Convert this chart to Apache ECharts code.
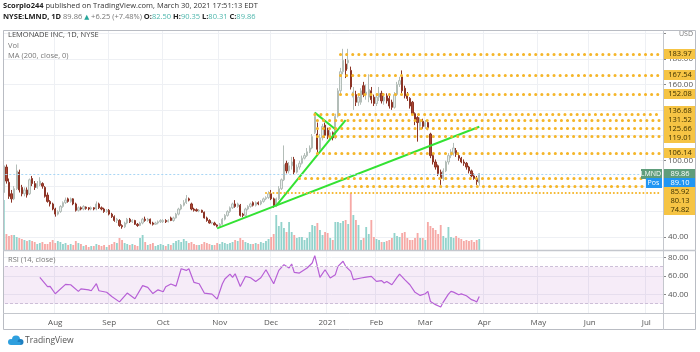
<!DOCTYPE html>
<html>
<head>
<meta charset="utf-8">
<script src="https://cdn.jsdelivr.net/npm/echarts@6/dist/echarts.min.js"></script>
<style>
html, body { margin: 0; padding: 0; background: #fff; }
#chart { width: 700px; height: 352px; }
</style>
</head>
<body>
<div id="chart"></div>
<script>
// daily candles, [open, close, low, high]
var jul20 = [[50.1,69.4,50,70],[75,96,73,99],[95,84,82,97],[83,72,70,86],[74,70,67,77],[70,78,69,80],[78,92,77,97],[91,77,75,93],[79,74,72,81],[74,77,72,79],[77,73,71,79],[74,85,73,86],[86,82,80,88],[82,79,77,84],[79,82,78,84],[81,84,80,87],[82,80,78,83],[79,72,71,80],[73,68,67,75],[68,66,64,69],[66,62,61,67]];
var aug20 = [[62,58,56,63],[58,60,57,61],[60,64,59,65],[64,67,63,68],[67,69,66,71],[70,68,67,71],[68,70,67,71],[70,66,65,70.5],[66,61,60,67],[61,63,60,64],[63,62,61,64],[62,64,61,65],[63.5,62.5,61.5,64],[63,62,61,63.5],[62,63,61,64],[63,62,61,63.5],[62,66,61,68],[66,63,62,67],[63,62,61,64],[62,60,59,63],[60,61,59,62]];
var sep20 = [[61,58,57,62],[58,56,55,59],[56,53,52,57],[53,54,51,55],[53,49,48,54],[49,48,46.5,50],[48,51,47,52],[51,54,50,55],[54,52,51,55],[52,53,51,54],[53,50,49.5,53.5],[50,49,48,51],[49,51,48.5,52],[51,54,50,55],[54,53,52,56],[53,54,52,55],[54,51,50,54.5],[51,50,49,52],[50,51,49.5,52],[51,52,50,53],[52,53,51,54]];
var oct20 = [[52,53,51,54],[53,52,51,54],[52,53,51.5,54],[55,53,52.5,56],[53,55,52,56],[55,58,54.5,59],[58,62,57,63],[62,65,61,66],[65,67,64,69],[67,70,66,73],[70,69,68,71],[66,62,61,67],[62,61,60,63],[61.5,60.5,60,62.5],[60.5,61,59.5,62],[61,59.5,59,61.5],[59.5,55,54.5,60],[55,53,52,56],[53,51,50.5,54],[51,51.5,50,52],[51,49.5,49,52],[49.5,48.5,47.6,50]];
var nov20 = [[48.5,50,48,51],[50,54,49.5,55],[54,57,53,58],[57,60,56,61],[60,63,59,64],[63,66,62,67],[66,64,63,69],[64,66,63,67],[65,57,56,66],[58,57,55.5,59],[57,62,56,63],[62,64,61,65],[64,66,63,67],[67,65,64,68],[65,67,64,68],[67,66,65,68],[66,68,65,69],[68,70,67,71],[70,71,69,72],[71,74,70,76]];
var dec20 = [[74,70,69,77],[70,64,63,71],[64,70,63.5,71],[70,78,69,80],[78,85,77,86],[85,97,84,112],[98,92,90,100],[92,96,90,99],[96,99,93,103],[101,91,89,103],[91,95,90,97],[95,98,93,100],[98,102,97,104],[102,104,101,106],[104,107,103,110],[107,110,106,112],[110,119,109,121],[122,135,121,138],[121,109,106,130],[109,118,108,121],[118,127,116,129],[128,120,118,130]];
var jan21 = [[124,119,117,126],[119,122,117,124],[122,118,116,123],[118,135,117,137],[135,155,134,157],[155,170,152,173],[170,179,168,188],[176,171,165,180],[177,179,172,188],[171,158,156,174],[150,154,140,158],[152,146,143,155],[146,150,143,153],[146,155,144,157],[159,152,150,162],[152,154,148,160],[150,156,146,168],[155,148,145,158],[150,145,143,152]];
var feb21 = [[145,150,143,153],[150,153,147,158],[153,147,145,155],[147,150,144,153],[151,147,145,153],[149,143,141,151],[146,142,140,148],[142,152,141,154],[152,160,151,162],[160,163,158,166],[166,155,153,171],[157,151,149,159],[152,149,147,154],[149,143,141,150],[146,137,136,147],[137,132,128,138],[134,130,115,135],[127,132,124,134],[131,127,125,133]];
var mar21 = [[127,130,125,132],[130,126,124,131],[121,104,102,122],[104,99,97,106],[99,95,93,101],[96,90,88,97],[91,86,81,93],[86,92,84,94],[92,99,91,100],[99,104,97,106],[104,107,102,109],[106,110,104,114],[108,105,103,110],[104,102,100,106],[102,99,98,103],[99,98,96,101],[98,95,93,99],[95,92,90,96],[92,88,87,93],[88,86,85,90],[86,83.61,81,88],[82.5,89.86,80.31,90.35]];

// volume per bar (x100k shares, estimated)
var volJul = [48,50,16,14,15,15,13,12,11,10,9,10,9,8,6,7,8,6,6,8,10];
var volAug = [7,9,8,6,7,5,6,5,9,7,6,4,5,3,4,4,6,5,4,5,3];
var volSep = [5,6,8,7,12,10,7,6,5,6,5,4,12,15,8,5,6,7,4,5,6];
var volOct = [5,4,6,5,7,9,10,8,11,9,7,8,6,5,5,6,8,7,6,5,5,7];
var volNov = [6,8,7,6,7,8,10,9,12,10,8,7,6,6,7,6,8,7,9,11];
var volDec = [13,16,35,24,28,22,18,28,18,15,12,13,13,10,12,18,25,24,27,20,15,18];
var volJan = [17,12,10,28,28,27,29,30,26,57,35,30,25,10,12,23,16,30,13];
var volFeb = [11,10,8,8,9,10,12,17,14,13,17,18,12,10,10,12,17,12,12];
var volMar = [10,28,24,22,20,16,25,14,12,23,13,12,14,12,11,9,10,9,10,8,10,11];

// RSI(14) read at bar index
var rsiPoints = [[15,58.4],[18,48.4],[19,48.7],[21,40.8],[25,50.9],[27,50.5],[30,43.3],[31,46],[34,45],[35,44],[37,51.6],[38,44],[41,42.4],[43,37.9],[46,32],[49,41.5],[52,35.4],[55,49.5],[57,47.7],[59,41],[61,45],[63,43],[64,48.4],[66,51.3],[68,49],[70,67.8],[72,66],[73,67.8],[75,53],[77,51.6],[79,41.5],[82,40.4],[84,35],[86,51.3],[87,56.7],[89,62],[90,58.4],[91,62.4],[93,48.7],[95,59.5],[97,58],[99,54.1],[101,58],[103,66.7],[106,51.6],[108,66],[110,72.2],[112,68.6],[113,72.9],[114,63.9],[116,63.1],[119,68.6],[121,74],[122,81.9],[124,58.4],[126,66.7],[128,57.8],[130,61.4],[131,70.4],[133,75.8],[134,70.4],[136,65],[137,56],[140,57.8],[142,58.7],[144,59.5],[146,54.1],[148,55],[149,52.4],[150,54.1],[152,50.5],[154,58.4],[155,62],[157,56],[159,50.5],[161,42.3],[163,39],[165,40.8],[166,43.3],[167,32.5],[169,29],[171,26.5],[172,31.8],[174,40.4],[175,43.3],[176,42.5],[178,39.7],[179,40.6],[181,38.6],[183,34.4],[184,33.4],[185,31.8],[186,37.9]];

// drawn trend lines, [barIndex, price]
var trendLong = [[83.8,46.8],[185.6,126.7]];
var trendSteep = [[106.5,64.6],[133.7,132]];
var trendTop = [[121.7,137.8],[130.2,124.7]];

// horizontal levels and the bar where each starts
var levelValues = [183.97,167.54,152.08,136.68,131.52,125.66,119.01,106.14,85.92,80.13,74.82];
var levelStarts = [132,132,132,122,123,123,123,123,115.5,132.6,103.4];
var lastPrice = 89.86;
var posPrice = 89.10;

// time axis: month ticks at bar index (trading days), future bars up to Jul 2021
var totalBars = 258;
var tickIndex = [21,42,63,85,105,127,146,165,188,209,229,251];
var tickText = ['Aug','Sep','Oct','Nov','Dec','2021','Feb','Mar','Apr','May','Jun','Jul'];

var candles = [].concat(jul20, aug20, sep20, oct20, nov20, dec20, jan21, feb21, mar21);
var volumes = [].concat(volJul, volAug, volSep, volOct, volNov, volDec, volJan, volFeb, volMar);

var cats = [];
for (var i = 0; i < totalBars; i++) cats.push(String(i));

var volData = volumes.map(function (v, i) {
    var up = candles[i][1] >= candles[i][0];
    return { value: v, itemStyle: { color: up ? '#93d3cc' : '#f6a9a6' } };
});

function isTick(idx) { return tickIndex.indexOf(idx) >= 0; }

var levelLines = levelValues.map(function (v, k) {
    var small = v < 75;
    return [
        { coord: [levelStarts[k], v], lineStyle: { width: small ? 2 : 3, type: small ? [0.1, 3.6] : [0.1, 6] } },
        { coord: [totalBars - 1, v] }
    ];
});

var chart = echarts.init(document.getElementById('chart'));
var font = '"Open Sans", "DejaVu Sans", sans-serif';

var option = {
    animation: false,
    textStyle: { fontFamily: font },
    grid: [
        { left: 0, right: 37, top: 30, height: 207 },
        { left: 0, right: 37, top: 30, height: 220 },
        { left: 0, right: 37, top: 250, height: 63 }
    ],
    xAxis: [
        { type: 'category', gridIndex: 0, data: cats, show: false },
        { type: 'category', gridIndex: 1, data: cats, axisLine: { show: false }, axisTick: { show: false }, axisLabel: { show: false },
          splitLine: { show: true, interval: function (i) { return isTick(i); }, lineStyle: { color: '#eef0f4' } } },
        { type: 'category', gridIndex: 2, data: cats,
          axisLine: { show: false }, axisTick: { show: false },
          axisLabel: { interval: function (i) { return isTick(i); }, formatter: function (v, i) { var k = tickIndex.indexOf(i); return k >= 0 ? tickText[k] : ''; },
                       color: '#555', fontSize: 8, margin: 6 },
          splitLine: { show: true, interval: function (i) { return isTick(i); }, lineStyle: { color: '#eef0f4' } } }
    ],
    yAxis: [
        { type: 'value', gridIndex: 0, position: 'right', min: 40, max: 202.8, interval: 20,
          axisLine: { show: false }, axisTick: { show: true, length: 3, lineStyle: { color: '#888' } },
          axisLabel: { color: '#555', fontSize: 8, margin: 5, showMaxLabel: false, formatter: function (v) { return v > 190 ? '' : v.toFixed(2); } },
          splitLine: { lineStyle: { color: '#eef0f4' } } },
        { type: 'value', gridIndex: 1, min: 0, max: 220, show: false },
        { type: 'value', gridIndex: 2, position: 'right', min: 20, max: 88, interval: 20,
          axisLine: { show: false }, axisTick: { show: true, length: 3, lineStyle: { color: '#888' } },
          axisLabel: { color: '#555', fontSize: 8, margin: 5, showMinLabel: false, showMaxLabel: false, formatter: function (v) { return v.toFixed(2); } },
          splitLine: { lineStyle: { color: '#eef0f4' } } }
    ],
    series: [
        { name: 'Vol', type: 'bar', xAxisIndex: 1, yAxisIndex: 1, data: volData, barWidth: '72%', silent: true },
        { name: 'LMND', type: 'candlestick', xAxisIndex: 0, yAxisIndex: 0, data: candles, barWidth: '68%',
          itemStyle: { color: '#e9eeec', color0: '#ac4634', borderColor: '#b3bdb8', borderColor0: '#8c3426', borderWidth: 1 } },
        { name: 'levels', type: 'line', xAxisIndex: 0, yAxisIndex: 0, data: [], silent: true,
          markLine: { silent: true, symbol: 'none', label: { show: false },
                      lineStyle: { color: '#f5b62a', width: 3, cap: 'round' },
                      data: levelLines.concat([[{ coord: [0, posPrice], lineStyle: { color: '#a9d6f5', width: 1, type: [2, 2], cap: 'butt' } }, { coord: [totalBars - 1, posPrice] }]]) } },
        { name: 't1', type: 'line', xAxisIndex: 0, yAxisIndex: 0, data: trendLong, symbol: 'none', silent: true, lineStyle: { color: '#33e233', width: 2 } },
        { name: 't2', type: 'line', xAxisIndex: 0, yAxisIndex: 0, data: trendSteep, symbol: 'none', silent: true, lineStyle: { color: '#33e233', width: 2 } },
        { name: 't3', type: 'line', xAxisIndex: 0, yAxisIndex: 0, data: trendTop, symbol: 'none', silent: true, lineStyle: { color: '#33e233', width: 2 } },
        { name: 'RSI', type: 'line', xAxisIndex: 2, yAxisIndex: 2, data: rsiPoints, symbol: 'none', silent: true,
          lineStyle: { color: '#b760d6', width: 1.2 },
          markArea: { silent: true, itemStyle: { color: 'rgba(156,39,176,0.09)' }, data: [[{ yAxis: 30 }, { yAxis: 70 }]] },
          markLine: { silent: true, symbol: 'none', label: { show: false }, lineStyle: { color: '#cdbfd8', type: [3, 2], width: 1 },
                      data: [{ yAxis: 30 }, { yAxis: 70 }] } }
    ]
};
chart.setOption(option);

// price scale tags, pushed apart where they overlap
function priceY(v) { return chart.convertToPixel({ gridIndex: 0 }, [0, v])[1]; }
var tags = levelValues.map(function (v) { return { v: v, y: priceY(v), fixed: false, bg: '#f6c444', fg: '#3d3200' }; });
tags.push({ v: lastPrice, y: priceY(lastPrice), fixed: true, bg: '#5f9d7b', fg: '#fff', name: 'LMND' });
tags.push({ v: posPrice, y: priceY(posPrice), fixed: false, bg: '#2196f3', fg: '#fff', name: 'Pos' });
var gap = 9;
for (var it = 0; it < 200; it++) {
    tags.sort(function (a, b) { return a.y - b.y; });
    for (var k = 0; k < tags.length - 1; k++) {
        var a = tags[k], b = tags[k + 1], d = b.y - a.y;
        if (d < gap) {
            var o = gap - d;
            if (a.fixed) b.y += o;
            else if (b.fixed) a.y -= o;
            else { a.y -= o / 2; b.y += o / 2; }
        }
    }
}

var g = [];
// mask left of frame
g.push({ type: 'rect', shape: { x: 0, y: 28, width: 3, height: 305 }, style: { fill: '#fff' }, z: 50 });
tags.forEach(function (t) {
    var ty = Math.round(t.y);
    g.push({ type: 'rect', shape: { x: 664, y: ty - 5, width: 31, height: 10 }, style: { fill: t.bg }, z: 60 });
    g.push({ type: 'text', x: 680, y: ty, style: { text: t.v.toFixed(2), fill: t.fg, fontSize: 7.5, fontFamily: font, align: 'center', verticalAlign: 'middle' }, z: 61 });
    if (t.name) {
        var w = t.name === 'LMND' ? 22 : 17;
        g.push({ type: 'rect', shape: { x: 663 - w, y: ty - 5, width: w - 1, height: 10 }, style: { fill: t.bg }, z: 60 });
        g.push({ type: 'text', x: 662 - w / 2, y: ty, style: { text: t.name, fill: t.fg, fontSize: 7, fontFamily: font, align: 'center', verticalAlign: 'middle' }, z: 61 });
    }
});
// frame and pane separators
g.push({ type: 'rect', shape: { x: 3.5, y: 30.5, width: 692, height: 299 }, style: { fill: 'none', stroke: '#b9bcc3', lineWidth: 1 }, z: 70 });
g.push({ type: 'line', shape: { x1: 663.5, y1: 30, x2: 663.5, y2: 330 }, style: { stroke: '#c4c7cd', lineWidth: 1 }, z: 70 });
g.push({ type: 'line', shape: { x1: 3, y1: 250.5, x2: 696, y2: 250.5 }, style: { stroke: '#c4c7cd', lineWidth: 1.5 }, z: 70 });
g.push({ type: 'line', shape: { x1: 3, y1: 313.5, x2: 696, y2: 313.5 }, style: { stroke: '#c4c7cd', lineWidth: 1 }, z: 70 });
// header
g.push({ type: 'text', x: 3, y: 6, style: { text: '{b|Scorpio244} published on TradingView.com, March 30, 2021 17:51:13 EDT',
    fontSize: 7.5, fontFamily: font, fill: '#333', verticalAlign: 'middle',
    rich: { b: { fontWeight: 'bold', fontSize: 7.5, fontFamily: font, fill: '#222' } } }, z: 80 });
g.push({ type: 'text', x: 3, y: 17, style: {
    text: '{b|NYSE:LMND, 1D} {n|89.86} {u|▲} {n|+6.25 (+7.48%)} {b|O:}{t|82.50} {b|H:}{t|90.35} {b|L:}{t|80.31} {b|C:}{t|89.86}',
    fontSize: 7.5, fontFamily: font, fill: '#333', verticalAlign: 'middle',
    rich: { b: { fontWeight: 'bold', fontSize: 7.5, fontFamily: font, fill: '#222' },
            n: { fontSize: 7.5, fontFamily: font, fill: '#777' },
            u: { fontSize: 6.5, fontFamily: font, fill: '#26a69a' },
            t: { fontSize: 7.5, fontFamily: font, fill: '#4db6ac' } } }, z: 80 });
// pane legends
g.push({ type: 'text', x: 8, y: 35, style: { text: 'LEMONADE INC, 1D, NYSE', fontSize: 7.5, fontFamily: font, fill: '#444', verticalAlign: 'middle' }, z: 80 });
g.push({ type: 'text', x: 8, y: 46, style: { text: 'Vol', fontSize: 7.5, fontFamily: font, fill: '#777', verticalAlign: 'middle' }, z: 80 });
g.push({ type: 'text', x: 8, y: 56, style: { text: 'MA (200, close, 0)', fontSize: 7.5, fontFamily: font, fill: '#777', verticalAlign: 'middle' }, z: 80 });
g.push({ type: 'text', x: 8, y: 260, style: { text: 'RSI (14, close)', fontSize: 7.5, fontFamily: font, fill: '#777', verticalAlign: 'middle' }, z: 80 });
g.push({ type: 'text', x: 679, y: 34, style: { text: 'USD', fontSize: 7, fontFamily: font, fill: '#777', verticalAlign: 'middle' }, z: 80 });
// TradingView mark (small cloud built from circles)
g.push({ type: 'circle', shape: { cx: 11, cy: 342, r: 3 }, style: { fill: '#2e9fde' } });
g.push({ type: 'circle', shape: { cx: 16, cy: 339.5, r: 4 }, style: { fill: '#2e9fde' } });
g.push({ type: 'circle', shape: { cx: 20.5, cy: 342, r: 3 }, style: { fill: '#1e7fc0' } });
g.push({ type: 'rect', shape: { x: 11, y: 342, width: 9.5, height: 3 }, style: { fill: '#2e9fde' } });
g.push({ type: 'text', x: 25, y: 341, style: { text: 'TradingView', fontSize: 8.5, fontFamily: font, fill: '#555', verticalAlign: 'middle' } });
chart.setOption({ graphic: g });
</script>
</body>
</html>
